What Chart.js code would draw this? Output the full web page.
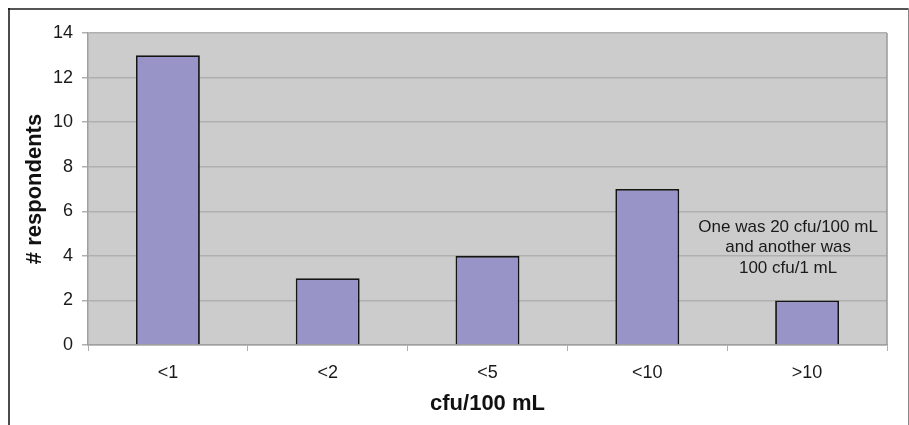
<!DOCTYPE html>
<html>
<head>
<meta charset="utf-8">
<script src="https://cdn.jsdelivr.net/npm/chart.js@4/dist/chart.umd.min.js"></script>
<style>
  html, body { margin: 0; padding: 0; background: #ffffff; }
  #wrap { width: 909px; height: 425px; }
</style>
</head>
<body>
<div id="wrap"><canvas id="c" width="909" height="425"></canvas></div>
<script>
// Respondents by reported cfu/100 mL limit
const categories = ['<1', '<2', '<5', '<10', '>10'];
const respondents = [13, 3, 4, 7, 2];
const yTicks = [0, 2, 4, 6, 8, 10, 12, 14];
const noteLines = ['One was 20 cfu/100 mL', 'and another was', '100 cfu/1 mL'];

const FONT = "'Liberation Sans', Arial, sans-serif";

// Grey plot background plus outer frame
const plotBackground = {
  id: 'plotBackground',
  beforeDraw(chart) {
    const { ctx, chartArea: a } = chart;
    ctx.save();
    ctx.fillStyle = '#cccccc';
    ctx.fillRect(a.left, a.top, a.right - a.left, a.bottom - a.top);
    ctx.restore();
  },
  afterDraw(chart) {
    const { ctx, chartArea: a } = chart;
    ctx.save();
    // plot area right edge
    ctx.strokeStyle = '#9a9a9a';
    ctx.lineWidth = 1.5;
    ctx.beginPath();
    ctx.moveTo(a.right, a.top);
    ctx.lineTo(a.right, a.bottom);
    ctx.stroke();
    // outer frame
    ctx.strokeStyle = '#555555';
    ctx.lineWidth = 2;
    ctx.beginPath();
    ctx.moveTo(8, 9);
    ctx.lineTo(908, 9);
    ctx.stroke();
    ctx.strokeStyle = '#111111';
    ctx.lineWidth = 1.5;
    ctx.beginPath();
    ctx.moveTo(9, 8);
    ctx.lineTo(9, 425);
    ctx.stroke();
    ctx.strokeStyle = '#888888';
    ctx.lineWidth = 1;
    ctx.beginPath();
    ctx.moveTo(908.5, 8);
    ctx.lineTo(908.5, 425);
    ctx.stroke();
    ctx.restore();
  }
};

// Note placed over the last category, above its bar
const noteText = {
  id: 'noteText',
  afterDatasetsDraw(chart) {
    const { ctx, scales: { x, y } } = chart;
    const cxNote = x.getPixelForValue(4) - 19;
    ctx.save();
    ctx.font = '17px ' + FONT;
    ctx.fillStyle = '#1a1a1a';
    ctx.textAlign = 'center';
    ctx.textBaseline = 'middle';
    const top = y.getPixelForValue(5.3);
    noteLines.forEach((t, i) => ctx.fillText(t, cxNote, top + i * 20.5));
    ctx.restore();
  }
};

new Chart(document.getElementById('c'), {
  type: 'bar',
  data: {
    labels: categories,
    datasets: [{
      data: respondents,
      backgroundColor: '#9894c8',
      borderColor: '#141414',
      borderWidth: 1.8,
      categoryPercentage: 0.8,
      barPercentage: 0.5
    }]
  },
  options: {
    responsive: false,
    animation: false,
    devicePixelRatio: 1,
    layout: { padding: { left: 0, top: 33, right: 22, bottom: 0 } },
    plugins: { legend: { display: false }, tooltip: { enabled: false } },
    scales: {
      x: {
        afterFit(s) { s.height = 80; },
        grid: {
          offset: true,
          drawOnChartArea: false,
          drawTicks: true,
          tickLength: 6,
          tickColor: '#b0b0b0',
          tickWidth: 1
        },
        border: { display: true, color: '#a0a0a0', width: 1.5 },
        ticks: {
          color: '#1a1a1a',
          padding: 11,
          font: { family: FONT, size: 18 }
        },
        title: {
          display: true,
          text: 'cfu/100 mL',
          color: '#111111',
          font: { family: FONT, size: 22, weight: 'bold' },
          padding: { top: 0, bottom: 8 }
        }
      },
      y: {
        min: 0,
        max: 14,
        afterFit(s) { s.width = 88; },
        afterBuildTicks(s) { s.ticks = yTicks.map(v => ({ value: v })); },
        grid: {
          color: '#b0b0b0',
          lineWidth: 1.5,
          drawTicks: true,
          tickLength: 6,
          tickColor: '#b0b0b0'
        },
        border: { display: true, color: '#a0a0a0', width: 1.5 },
        ticks: {
          color: '#1a1a1a',
          padding: 9,
          font: { family: FONT, size: 18 }
        },
        title: {
          display: true,
          text: '# respondents',
          color: '#111111',
          font: { family: FONT, size: 22, weight: 'bold' },
          padding: { top: 22, bottom: 0 }
        }
      }
    }
  },
  plugins: [plotBackground, noteText]
});
</script>
</body>
</html>
